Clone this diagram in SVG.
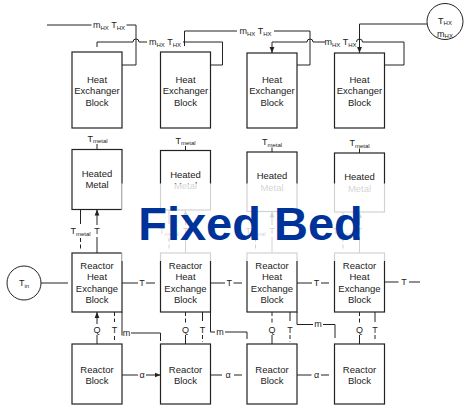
<svg xmlns="http://www.w3.org/2000/svg" width="464" height="405" viewBox="0 0 464 405">
<style>
text{font-family:"Liberation Sans",Arial,sans-serif;fill:#222}
.bx{fill:#fff;stroke:#222;stroke-width:1.2}
.bt{font-size:9.5px;text-anchor:middle}
.ln{fill:none;stroke:#222;stroke-width:1}
.ds{fill:none;stroke:#222;stroke-width:1;stroke-dasharray:4 2.5}
.lb{font-size:9px;text-anchor:middle}
.sb{font-size:6px}
</style>
<defs>
<marker id="ah" viewBox="0 0 10 10" refX="10" refY="5" markerWidth="6" markerHeight="6" orient="auto" markerUnits="userSpaceOnUse"><path d="M0,1 L10,5 L0,9 z" fill="#222"/></marker>
</defs>
<rect width="464" height="405" fill="#fff"/>

<g id="thx-source"><circle cx="445" cy="21.5" r="18" fill="#fff" stroke="#222" stroke-width="1"/>
<text class="lb" x="445" y="23.5">T<tspan class="sb" dy="1.5">HX</tspan></text>
<text class="lb" x="445" y="36.5">m<tspan class="sb" dy="1.5">HX</tspan></text></g>

<g id="tin-source"><circle cx="24" cy="283" r="17" fill="#fff" stroke="#222" stroke-width="1"/>
<text class="lb" x="24" y="286">T<tspan class="sb" dy="1.5">in</tspan></text></g>

<g id="hx1"><rect class="bx" x="72" y="52" width="50" height="76"/><text class="bt" x="97" y="82.5">Heat</text><text class="bt" x="97" y="94">Exchanger</text><text class="bt" x="97" y="105.5">Block</text></g>
<g id="hx2"><rect class="bx" x="160.5" y="52" width="50" height="76"/><text class="bt" x="185.5" y="82.5">Heat</text><text class="bt" x="185.5" y="94">Exchanger</text><text class="bt" x="185.5" y="105.5">Block</text></g>
<g id="hx3"><rect class="bx" x="247" y="53" width="50" height="75"/><text class="bt" x="272" y="82.5">Heat</text><text class="bt" x="272" y="94">Exchanger</text><text class="bt" x="272" y="105.5">Block</text></g>
<g id="hx4"><rect class="bx" x="334.5" y="53" width="50" height="75"/><text class="bt" x="359.5" y="82.5">Heat</text><text class="bt" x="359.5" y="94">Exchanger</text><text class="bt" x="359.5" y="105.5">Block</text></g>

<g id="metal1"><rect class="bx" x="72" y="149.5" width="50" height="60"/><text class="bt" x="97" y="177">Heated</text><text class="bt" x="97" y="188">Metal</text></g>
<g id="metal2"><rect class="bx" x="160.5" y="150.5" width="50" height="59.5"/><text class="bt" x="185.5" y="178">Heated</text><text class="bt" x="185.5" y="189">Metal</text></g>
<g id="metal3"><rect class="bx" x="247" y="152" width="50" height="59.5"/><text class="bt" x="272" y="179">Heated</text><text class="bt" x="272" y="190.5">Metal</text></g>
<g id="metal4"><rect class="bx" x="334.5" y="153" width="50" height="59"/><text class="bt" x="359.5" y="180">Heated</text><text class="bt" x="359.5" y="191.5">Metal</text></g>

<g id="rhx1"><rect class="bx" x="72" y="253" width="50" height="59"/><text class="bt" x="97" y="269">Reactor</text><text class="bt" x="97" y="280.3">Heat</text><text class="bt" x="97" y="291.7">Exchange</text><text class="bt" x="97" y="303">Block</text></g>
<g id="rhx2"><rect class="bx" x="160.5" y="253" width="50" height="59"/><text class="bt" x="185.5" y="269">Reactor</text><text class="bt" x="185.5" y="280.3">Heat</text><text class="bt" x="185.5" y="291.7">Exchange</text><text class="bt" x="185.5" y="303">Block</text></g>
<g id="rhx3"><rect class="bx" x="247" y="253" width="50" height="59"/><text class="bt" x="272" y="269">Reactor</text><text class="bt" x="272" y="280.3">Heat</text><text class="bt" x="272" y="291.7">Exchange</text><text class="bt" x="272" y="303">Block</text></g>
<g id="rhx4"><rect class="bx" x="334.5" y="253" width="50" height="59"/><text class="bt" x="359.5" y="269">Reactor</text><text class="bt" x="359.5" y="280.3">Heat</text><text class="bt" x="359.5" y="291.7">Exchange</text><text class="bt" x="359.5" y="303">Block</text></g>

<g id="r1"><rect class="bx" x="72" y="344" width="50" height="60"/><text class="bt" x="97" y="372.5">Reactor</text><text class="bt" x="97" y="384">Block</text></g>
<g id="r2"><rect class="bx" x="160.5" y="344" width="50" height="60"/><text class="bt" x="185.5" y="372.5">Reactor</text><text class="bt" x="185.5" y="384">Block</text></g>
<g id="r3"><rect class="bx" x="247" y="344" width="50" height="60"/><text class="bt" x="272" y="372.5">Reactor</text><text class="bt" x="272" y="384">Block</text></g>
<g id="r4"><rect class="bx" x="334.5" y="344" width="50" height="60"/><text class="bt" x="359.5" y="372.5">Reactor</text><text class="bt" x="359.5" y="384">Block</text></g>

<g id="connectors">
<!-- top HX loop -->
<path class="ln" d="M122,65 H136 V25 H126.5"/><path class="ln" d="M91.5,25 H47"/>
<text class="lb" x="109" y="28">m<tspan class="sb" dy="1.5">HX</tspan><tspan dy="-1.5"> T</tspan><tspan class="sb" dy="1.5">HX</tspan></text>
<path class="ln" d="M210.5,65 H222.5 V42 H183"/>
<path class="ln" d="M147,42 H139 A3,3 0 0 0 133,42 H97 V47"/>
<text class="lb" x="165" y="45">m<tspan class="sb" dy="1.5">HX</tspan><tspan dy="-1.5"> T</tspan><tspan class="sb" dy="1.5">HX</tspan></text>
<path class="ln" d="M297,65 H310 V31 H274"/>
<path class="ln" d="M237,31 H184.5 V46"/>
<text class="lb" x="255.5" y="34">m<tspan class="sb" dy="1.5">HX</tspan><tspan dy="-1.5"> T</tspan><tspan class="sb" dy="1.5">HX</tspan></text>
<path class="ln" d="M384.5,65 H404 V42 H362.5 A3,3 0 0 0 356.5,42"/>
<path class="ln" d="M325,42 H313 A3,3 0 0 0 307,42 H272 V53" marker-end="url(#ah)"/>
<text class="lb" x="340.5" y="45">m<tspan class="sb" dy="1.5">HX</tspan><tspan dy="-1.5"> T</tspan><tspan class="sb" dy="1.5">HX</tspan></text>
<path class="ln" d="M427,24 H359.5 V53" marker-end="url(#ah)"/>
<!-- T_metal ticks above heated metal -->
<path class="ln" d="M97,144 V149.5"/><text class="lb" x="97.5" y="141.5">T<tspan class="sb" dy="1.5">metal</tspan></text>
<path class="ln" d="M185.5,146 V150.5"/><text class="lb" x="185.5" y="143.5">T<tspan class="sb" dy="1.5">metal</tspan></text>
<path class="ln" d="M272,147.5 V152"/><text class="lb" x="272" y="145">T<tspan class="sb" dy="1.5">metal</tspan></text>
<path class="ln" d="M359.5,148.5 V153"/><text class="lb" x="359.5" y="146">T<tspan class="sb" dy="1.5">metal</tspan></text>
<!-- heated metal <-> reactor HX -->
<path class="ln" d="M80.5,209.5 V224"/><path class="ds" d="M80.5,238 V251"/><text class="lb" x="80.5" y="234">T<tspan class="sb" dy="1.5">metal</tspan></text>
<path class="ln" d="M97,253 V237"/><path class="ln" d="M97,225 V209.5" marker-end="url(#ah)"/><text class="lb" x="97" y="234">T</text>
<path class="ln" d="M169,210 V224"/><path class="ds" d="M169,238 V251"/><text class="lb" x="169" y="234">T<tspan class="sb" dy="1.5">metal</tspan></text>
<path class="ln" d="M185.5,253 V237"/><path class="ln" d="M185.5,225 V210" marker-end="url(#ah)"/><text class="lb" x="185.5" y="234">T</text>
<path class="ln" d="M255.5,211.5 V224"/><path class="ds" d="M255.5,238 V251"/><text class="lb" x="255.5" y="234">T<tspan class="sb" dy="1.5">metal</tspan></text>
<path class="ln" d="M272,253 V237"/><path class="ln" d="M272,225 V211.5" marker-end="url(#ah)"/><text class="lb" x="272" y="234">T</text>
<path class="ln" d="M343,212 V224"/><path class="ds" d="M343,238 V251"/><text class="lb" x="343" y="234">T<tspan class="sb" dy="1.5">metal</tspan></text>
<path class="ln" d="M359.5,253 V237"/><path class="ln" d="M359.5,225 V212" marker-end="url(#ah)"/><text class="lb" x="359.5" y="234">T</text>
<!-- T chain -->
<path class="ln" d="M41,283 H68"/>
<path class="ln" d="M122,283 H138 M146,283 H155"/><text class="lb" x="142" y="286">T</text>
<path class="ln" d="M210.5,283 H225 M233.5,283 H242"/><text class="lb" x="229.3" y="286">T</text>
<path class="ln" d="M297,283 H312 M321,283 H329"/><text class="lb" x="316.5" y="286">T</text>
<path class="ln" d="M384.5,282 H398.5 M409,282 H420"/><text class="lb" x="404" y="285">T</text>
<!-- Q / T / m between reactor HX and reactor -->
<path class="ln" d="M97,344 V335"/><path class="ln" d="M97,324 V312" marker-end="url(#ah)"/><text class="lb" x="97" y="332.5">Q</text>
<path class="ds" d="M114.5,312 V322"/><path class="ds" d="M114.5,336 V342"/><text class="lb" x="114.5" y="332.5">T</text>
<path class="ln" d="M122,312 V335.5"/><text class="lb" x="126.5" y="335.5">m</text><path class="ln" d="M131,333 H160.5 V341"/>

<path class="ds" d="M185.5,312 V323"/><path class="ln" d="M185.5,335 V344"/><text class="lb" x="185.5" y="332.5">Q</text>
<path class="ln" d="M202.5,312 V321"/><path class="ds" d="M202.5,335 V342"/><text class="lb" x="202.5" y="332.5">T</text>
<path class="ln" d="M210.5,312 V332 H215"/><text class="lb" x="220" y="334.5">m</text><path class="ln" d="M225,332 H247 V339"/>

<path class="ds" d="M272,312 V323"/><path class="ln" d="M272,335 V344"/><text class="lb" x="272" y="332.5">Q</text>
<path class="ln" d="M290,312 V321"/><path class="ds" d="M290,335 V342"/><text class="lb" x="290" y="332.5">T</text>
<path class="ln" d="M297,312 V324.5 H313"/><text class="lb" x="318" y="327">m</text><path class="ln" d="M323,324.5 H335 V338"/>

<path class="ds" d="M359.5,312 V323"/><path class="ln" d="M359.5,335 V344"/><text class="lb" x="359.5" y="332.5">Q</text>
<path class="ln" d="M375,312 V322"/><path class="ds" d="M375,335 V341"/><text class="lb" x="375" y="332.5">T</text>
<!-- alpha chain -->
<path class="ln" d="M122,375 H138"/><path class="ln" d="M146,375 H160.5" marker-end="url(#ah)"/><text class="lb" x="142" y="378">α</text>
<path class="ln" d="M210.5,375 H222 M234,375 H242"/><text class="lb" x="228" y="378">α</text>
<path class="ln" d="M297,375 H311.5 M321,375 H329"/><text class="lb" x="316.5" y="378">α</text>
</g>

<rect id="title-veil" x="121.5" y="183.5" width="300" height="77.5" fill="#fff" fill-opacity="0.8"/>
<text id="title" x="250.5" y="240" font-size="47" font-weight="bold" text-anchor="middle" style="fill:#003399">Fixed Bed</text>
</svg>
